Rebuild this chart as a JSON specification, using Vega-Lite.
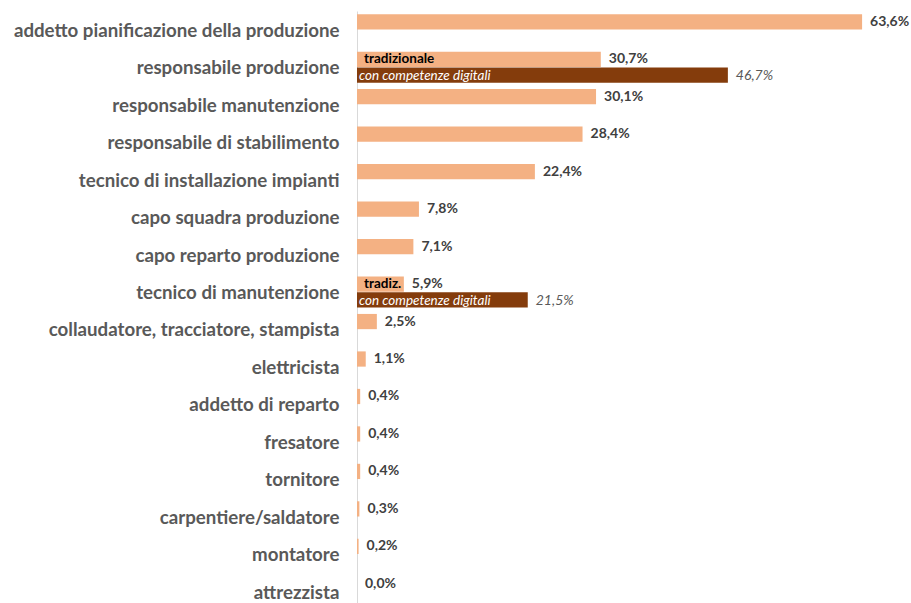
{
  "$schema": "https://vega.github.io/schema/vega-lite/v6.json",
  "width": 544,
  "height": 592,
  "autosize": "none",
  "padding": {"left": 357, "top": 11, "right": 10, "bottom": 0},
  "background": "white",
  "config": {
    "view": {"stroke": null},
    "font": "Lato",
    "locale": {"number": {"decimal": ",", "thousands": ".", "grouping": [3], "currency": ["", " €"]}}
  },
  "data": {
    "values": [
      {"ruolo": "addetto pianificazione della produzione", "serie": "trad", "valore": 0.636},
      {"ruolo": "responsabile produzione", "serie": "trad", "valore": 0.307, "interno": "tradizionale"},
      {"ruolo": "responsabile produzione", "serie": "dig", "valore": 0.467, "interno": "con competenze digitali"},
      {"ruolo": "responsabile manutenzione", "serie": "trad", "valore": 0.301},
      {"ruolo": "responsabile di stabilimento", "serie": "trad", "valore": 0.284},
      {"ruolo": "tecnico di installazione impianti", "serie": "trad", "valore": 0.224},
      {"ruolo": "capo squadra produzione", "serie": "trad", "valore": 0.078},
      {"ruolo": "capo reparto produzione", "serie": "trad", "valore": 0.071},
      {"ruolo": "tecnico di manutenzione", "serie": "trad", "valore": 0.059, "interno": "tradiz."},
      {"ruolo": "tecnico di manutenzione", "serie": "dig", "valore": 0.215, "interno": "con competenze digitali"},
      {"ruolo": "collaudatore, tracciatore, stampista", "serie": "trad", "valore": 0.025},
      {"ruolo": "elettricista", "serie": "trad", "valore": 0.011},
      {"ruolo": "addetto di reparto", "serie": "trad", "valore": 0.004},
      {"ruolo": "fresatore", "serie": "trad", "valore": 0.004},
      {"ruolo": "tornitore", "serie": "trad", "valore": 0.004},
      {"ruolo": "carpentiere/saldatore", "serie": "trad", "valore": 0.003},
      {"ruolo": "montatore", "serie": "trad", "valore": 0.002},
      {"ruolo": "attrezzista", "serie": "trad", "valore": 0.0}
    ]
  },
  "encoding": {
    "y": {
      "field": "ruolo",
      "type": "nominal",
      "sort": null,
      "title": null,
      "scale": {"range": [0, 599.5], "paddingInner": 0.17, "paddingOuter": 0.085},
      "axis": {
        "ticks": false,
        "domainColor": "#d9d9d9",
        "domainWidth": 1,
        "labelPadding": 18,
        "labelLimit": 400,
        "labelFont": "Lato",
        "labelFontSize": 18.7,
        "labelFontWeight": "bold",
        "labelColor": "#595959",
        "labelOffset": 1,
        "grid": false
      }
    },
    "yOffset": {
      "field": "serie",
      "type": "nominal",
      "scale": {"domain": ["trad", "dig"], "paddingInner": 0.04}
    },
    "x": {
      "field": "valore",
      "type": "quantitative",
      "scale": {"domain": [0, 0.685], "nice": false},
      "axis": null
    }
  },
  "layer": [
    {
      "mark": {"type": "bar"},
      "encoding": {
        "color": {
          "field": "serie",
          "type": "nominal",
          "scale": {"domain": ["trad", "dig"], "range": ["#F4B183", "#843C0C"]},
          "legend": null
        }
      }
    },
    {
      "transform": [{"filter": "datum.serie === 'trad'"}],
      "mark": {"type": "text", "align": "left", "baseline": "middle", "dx": 8, "dy": 0, "fontSize": 14, "fontWeight": "bold", "color": "#404040"},
      "encoding": {"text": {"field": "valore", "type": "quantitative", "format": ".1%"}}
    },
    {
      "transform": [{"filter": "datum.serie === 'dig'"}],
      "mark": {"type": "text", "align": "left", "baseline": "middle", "dx": 8, "dy": 1, "fontSize": 14, "fontStyle": "italic", "color": "#595959"},
      "encoding": {"text": {"field": "valore", "type": "quantitative", "format": ".1%"}}
    },
    {
      "transform": [{"filter": "datum.serie === 'trad' && datum.interno"}],
      "mark": {"type": "text", "align": "left", "baseline": "middle", "dx": 7, "fontSize": 13.5, "fontWeight": "bold", "color": "#000000"},
      "encoding": {"x": {"datum": 0, "type": "quantitative"}, "text": {"field": "interno", "type": "nominal"}}
    },
    {
      "transform": [{"filter": "datum.serie === 'dig' && datum.interno"}],
      "mark": {"type": "text", "align": "left", "baseline": "middle", "dx": 2, "dy": 1, "fontSize": 13.5, "fontStyle": "italic", "color": "#ffffff"},
      "encoding": {"x": {"datum": 0, "type": "quantitative"}, "text": {"field": "interno", "type": "nominal"}}
    }
  ]
}
